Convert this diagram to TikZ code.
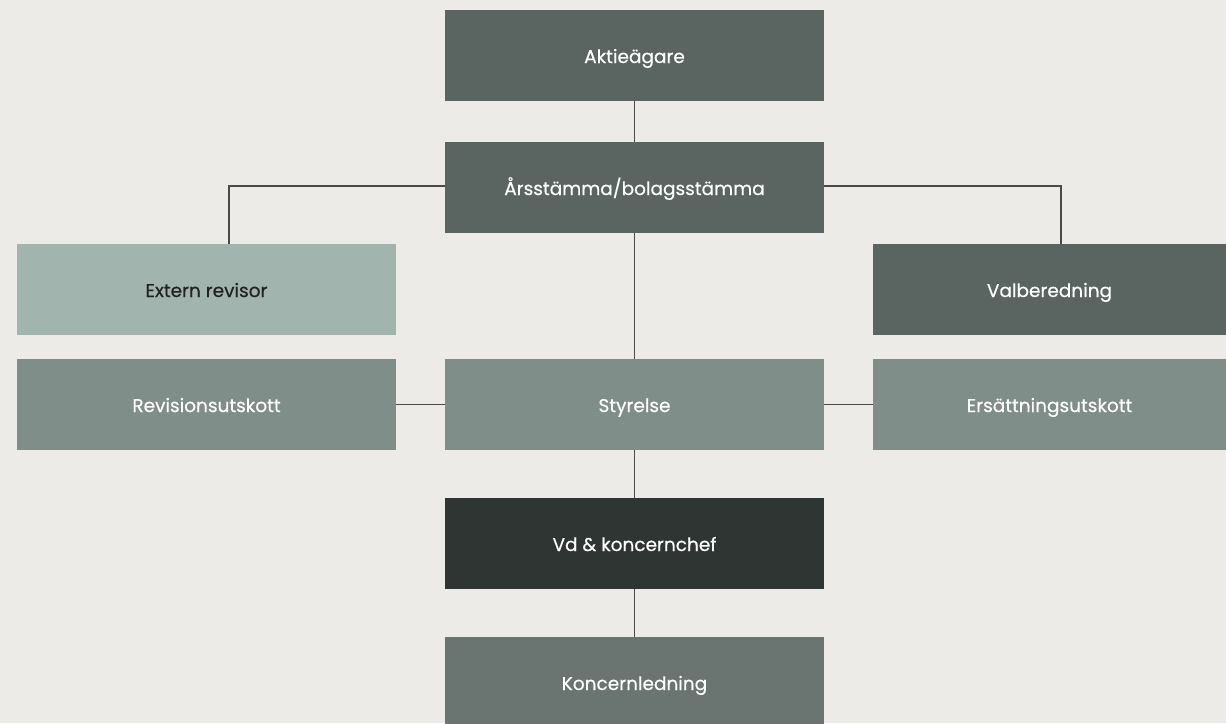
\documentclass[tikz,border=0pt]{standalone}
\usepackage{fontspec}
\setmainfont{Poppins}[FakeBold=0.5]
\definecolor{bg}{HTML}{EDEBE7}
\definecolor{cdark}{HTML}{5A6460}
\definecolor{clight}{HTML}{A2B4AE}
\definecolor{cmid}{HTML}{808E89}
\definecolor{cblack}{HTML}{2F3533}
\definecolor{cgrey}{HTML}{6A7571}
\definecolor{cline}{HTML}{4A4A4A}
\definecolor{ctext}{HTML}{222222}
\begin{document}
\begin{tikzpicture}[x=1pt,y=-1pt,
  box/.style={rectangle, inner sep=0pt, outer sep=0pt, minimum width=379pt, minimum height=91pt, text=white, text height=15pt, text depth=0pt, font=\fontsize{18.5}{22}\selectfont},
  conn/.style={draw=cline, line width=1.2pt}]
\fill[bg] (0,0) rectangle (1226,723);
\useasboundingbox (0,0) rectangle (1226,723);
\node[box, fill=cdark] (akt) at (634.5,55.5) {Aktieägare};
\node[box, fill=cdark] (ars) at (634.5,187.5) {Årsstämma/bolagsstämma};
\node[box, fill=clight, text=ctext] (ext) at (206.5,289.5) {Extern revisor};
\node[box, fill=cdark, minimum width=353pt] (val) at (1049.5,289.5) {Valberedning};
\node[box, fill=cmid] (rev) at (206.5,404.5) {Revisionsutskott};
\node[box, fill=cmid] (sty) at (634.5,404.5) {Styrelse};
\node[box, fill=cmid, minimum width=353pt] (ers) at (1049.5,404.5) {Ersättningsutskott};
\node[box, fill=cblack] (vd) at (634.5,543.5) {Vd \& koncernchef};
\node[box, fill=cgrey] (kl) at (634.5,682.5) {Koncernledning};
\draw[conn] (ars.west |- 0,186) -| (ext.north -| 229,0);
\draw[conn] (ars.east |- 0,186) -| (val.north -| 1061,0);
\draw[conn] (akt.south) -- (ars.north);
\draw[conn] (ars.south) -- (sty.north);
\draw[conn] (sty.west) -- (rev.east);
\draw[conn] (sty.east) -- (ers.east -| ers.west);
\draw[conn] (sty.south) -- (vd.north);
\draw[conn] (vd.south) -- (kl.north);
\end{tikzpicture}
\end{document}
